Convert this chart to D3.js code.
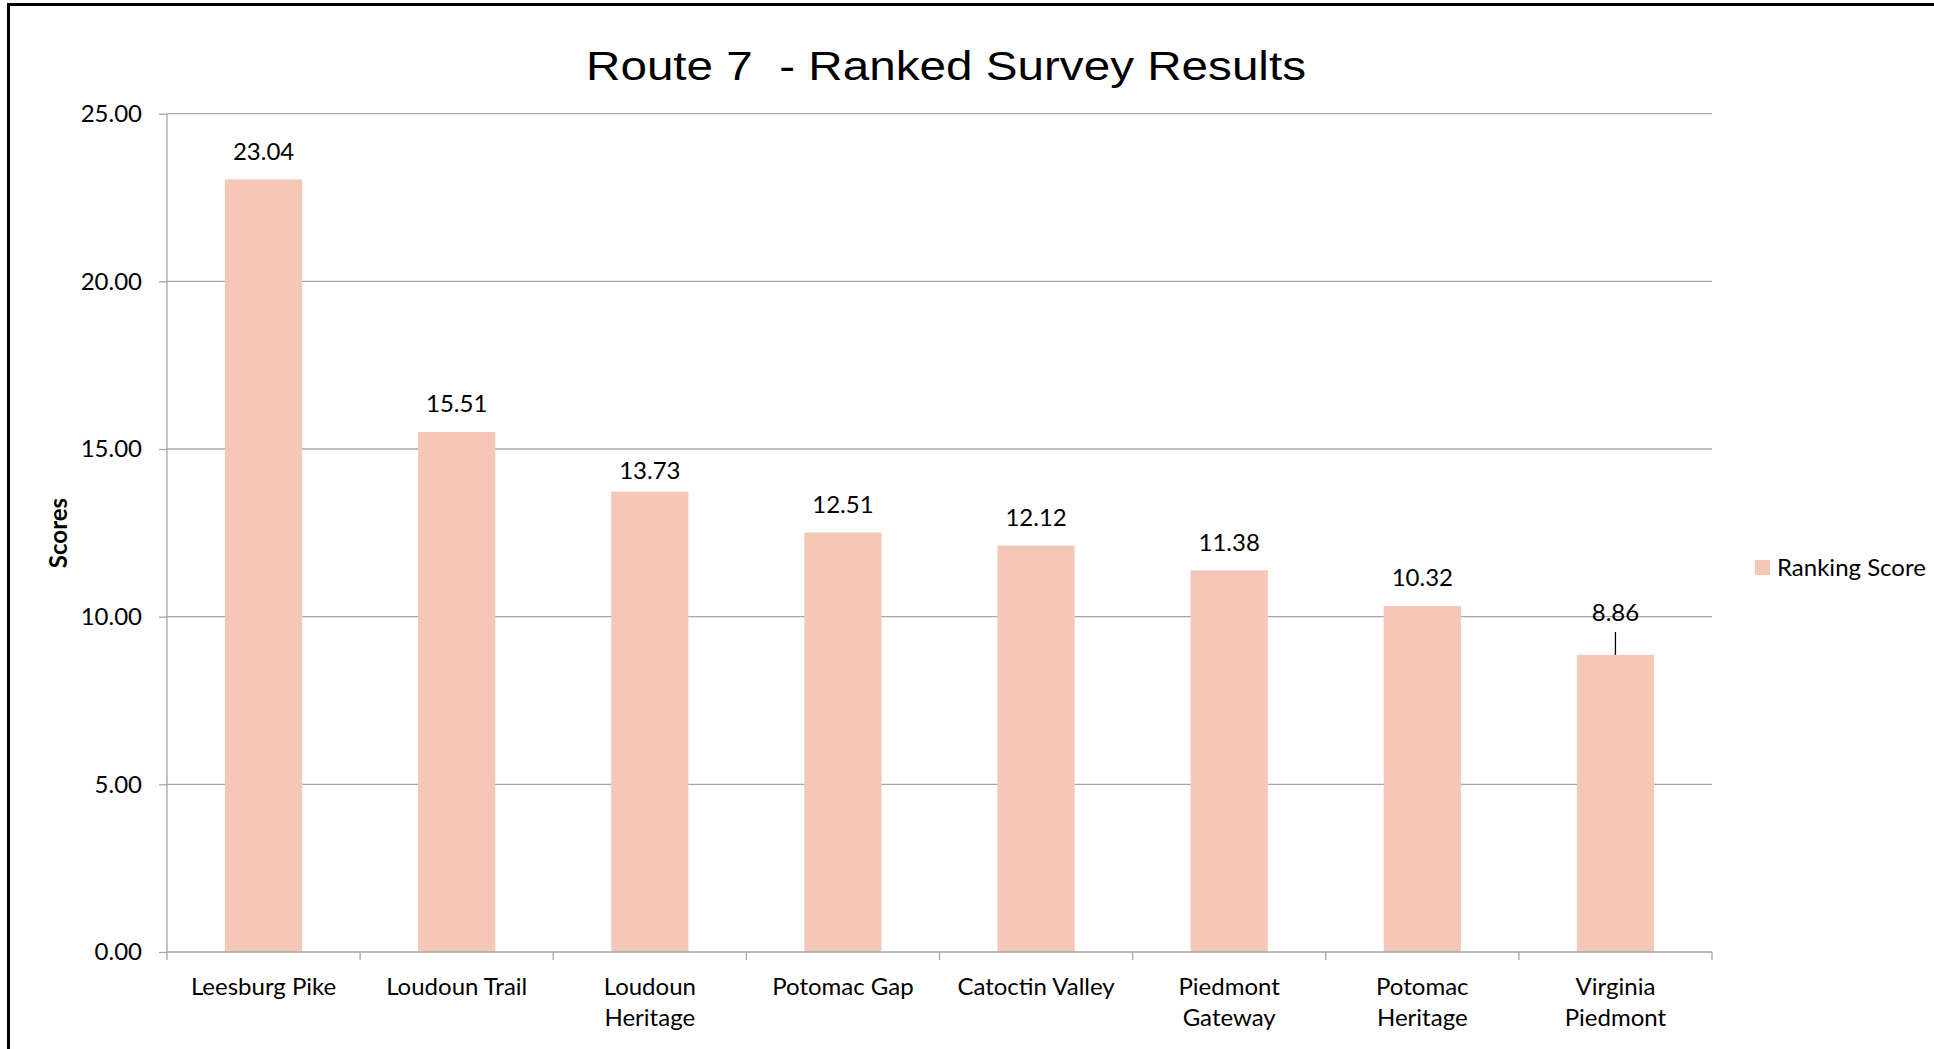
<!DOCTYPE html>
<html>
<head>
<meta charset="utf-8">
<script src="https://cdn.jsdelivr.net/npm/d3@7"></script>
<style>
  html, body { margin: 0; padding: 0; background: #fff; overflow: hidden; }
  svg { display: block; }
  .lbl { font-family: Lato, "Open Sans", sans-serif; fill: #000; }
</style>
</head>
<body>
<svg id="chart" width="1934" height="1049"></svg>
<script>
  const categories = [
    ["Leesburg Pike"],
    ["Loudoun Trail"],
    ["Loudoun", "Heritage"],
    ["Potomac Gap"],
    ["Catoctin Valley"],
    ["Piedmont", "Gateway"],
    ["Potomac", "Heritage"],
    ["Virginia", "Piedmont"],
  ];
  const scores = [23.04, 15.51, 13.73, 12.51, 12.12, 11.38, 10.32, 8.86];
  const yTicks = [0, 5, 10, 15, 20, 25];
  const seriesName = "Ranking Score";
  const chartTitle = "Route 7  - Ranked Survey Results";
  const yTitle = "Scores";

  const BAR_COLOR = "#f4c7b8";
  const GRID_COLOR = "#a6a6a6";
  const FONT_SIZE = 24;

  const plot = { left: 167, right: 1712, top: 113.7, bottom: 952 };

  const svg = d3.select("#chart");

  // outer chart border (runs off the right and bottom edges)
  svg.append("rect")
    .attr("x", 8.5).attr("y", 4.5)
    .attr("width", 2200).attr("height", 2200)
    .attr("fill", "none").attr("stroke", "#000").attr("stroke-width", 3);

  const x = d3.scaleBand()
    .domain(d3.range(categories.length))
    .range([plot.left, plot.right])
    .paddingInner(0.6)
    .paddingOuter(0.3);

  const y = d3.scaleLinear().domain([0, 25]).range([plot.bottom, plot.top]);

  // gridlines
  svg.append("g")
    .selectAll("line")
    .data(yTicks.filter((t) => t > 0))
    .join("line")
    .attr("x1", plot.left).attr("x2", plot.right)
    .attr("y1", (d) => y(d)).attr("y2", (d) => y(d))
    .attr("stroke", GRID_COLOR).attr("stroke-width", 1.3);

  // y axis
  const yAxis = svg.append("g")
    .attr("transform", `translate(${plot.left},0)`)
    .call(d3.axisLeft(y).tickValues(yTicks).tickFormat(d3.format(".2f")).tickSize(8).tickPadding(17));
  yAxis.select(".domain").attr("stroke", GRID_COLOR).attr("stroke-width", 1.3).attr("d", `M0,${plot.top}V${plot.bottom}`);
  yAxis.selectAll(".tick line").attr("stroke", GRID_COLOR).attr("stroke-width", 1.3);
  yAxis.selectAll(".tick text")
    .attr("class", "lbl")
    .style("font-size", FONT_SIZE + "px")
    .attr("fill", "#000");

  // bars
  svg.append("g")
    .selectAll("rect")
    .data(scores)
    .join("rect")
    .attr("x", (d, i) => x(i))
    .attr("y", (d) => y(d))
    .attr("width", x.bandwidth())
    .attr("height", (d) => y(0) - y(d))
    .attr("fill", BAR_COLOR);

  // x axis line + boundary ticks
  const step = x.step();
  const bounds = d3.range(categories.length + 1).map((i) => plot.left + i * step);
  const xAxis = svg.append("g");
  xAxis.append("line")
    .attr("x1", plot.left).attr("x2", plot.right)
    .attr("y1", plot.bottom).attr("y2", plot.bottom)
    .attr("stroke", GRID_COLOR).attr("stroke-width", 1.3);
  xAxis.selectAll("line.tk")
    .data(bounds)
    .join("line")
    .attr("class", "tk")
    .attr("x1", (d) => d).attr("x2", (d) => d)
    .attr("y1", plot.bottom).attr("y2", plot.bottom + 8)
    .attr("stroke", GRID_COLOR).attr("stroke-width", 1.3);

  // category labels
  const catText = svg.append("g")
    .selectAll("text")
    .data(categories)
    .join("text")
    .attr("class", "lbl")
    .attr("text-anchor", "middle")
    .style("font-size", FONT_SIZE + "px")
    .attr("transform", (d, i) => `translate(${x(i) + x.bandwidth() / 2},995)`);
  catText.selectAll("tspan")
    .data((d) => d)
    .join("tspan")
    .attr("x", 0)
    .attr("dy", (d, i) => (i === 0 ? 0 : 31))
    .text((d) => d);

  // data labels: the third sits a bit closer to its bar, the last is lifted with a leader line
  const lifted = scores.length - 1;
  const labelY = (d, i) => {
    if (i === lifted) return y(d) - 34;
    if (i === 2) return y(d) - 12.5;
    return y(d) - 19.5;
  };
  svg.append("g")
    .selectAll("text")
    .data(scores)
    .join("text")
    .attr("class", "lbl")
    .attr("text-anchor", "middle")
    .style("font-size", FONT_SIZE + "px")
    .attr("x", (d, i) => x(i) + x.bandwidth() / 2)
    .attr("y", labelY)
    .text((d) => d.toFixed(2));
  svg.append("line")
    .attr("x1", x(lifted) + x.bandwidth() / 2).attr("x2", x(lifted) + x.bandwidth() / 2)
    .attr("y1", y(scores[lifted]) - 23).attr("y2", y(scores[lifted]))
    .attr("stroke", "#000").attr("stroke-width", 1.3);

  // title
  svg.append("text")
    .attr("x", 946).attr("y", 80)
    .attr("text-anchor", "middle")
    .attr("font-family", "'Liberation Sans', Arial, sans-serif")
    .attr("font-size", 40)
    .attr("textLength", 720)
    .attr("lengthAdjust", "spacingAndGlyphs")
    .style("white-space", "pre")
    .text(chartTitle);

  // y axis title
  svg.append("text")
    .attr("class", "lbl")
    .attr("transform", "translate(67,533) rotate(-90)")
    .attr("text-anchor", "middle")
    .style("font-size", FONT_SIZE + "px")
    .attr("font-weight", "bold")
    .text(yTitle);

  // legend
  const legend = svg.append("g").attr("transform", "translate(1755,560)");
  legend.append("rect").attr("width", 15).attr("height", 15).attr("fill", BAR_COLOR);
  legend.append("text")
    .attr("class", "lbl")
    .attr("x", 22).attr("y", 16)
    .style("font-size", FONT_SIZE + "px")
    .text(seriesName);
</script>
</body>
</html>
